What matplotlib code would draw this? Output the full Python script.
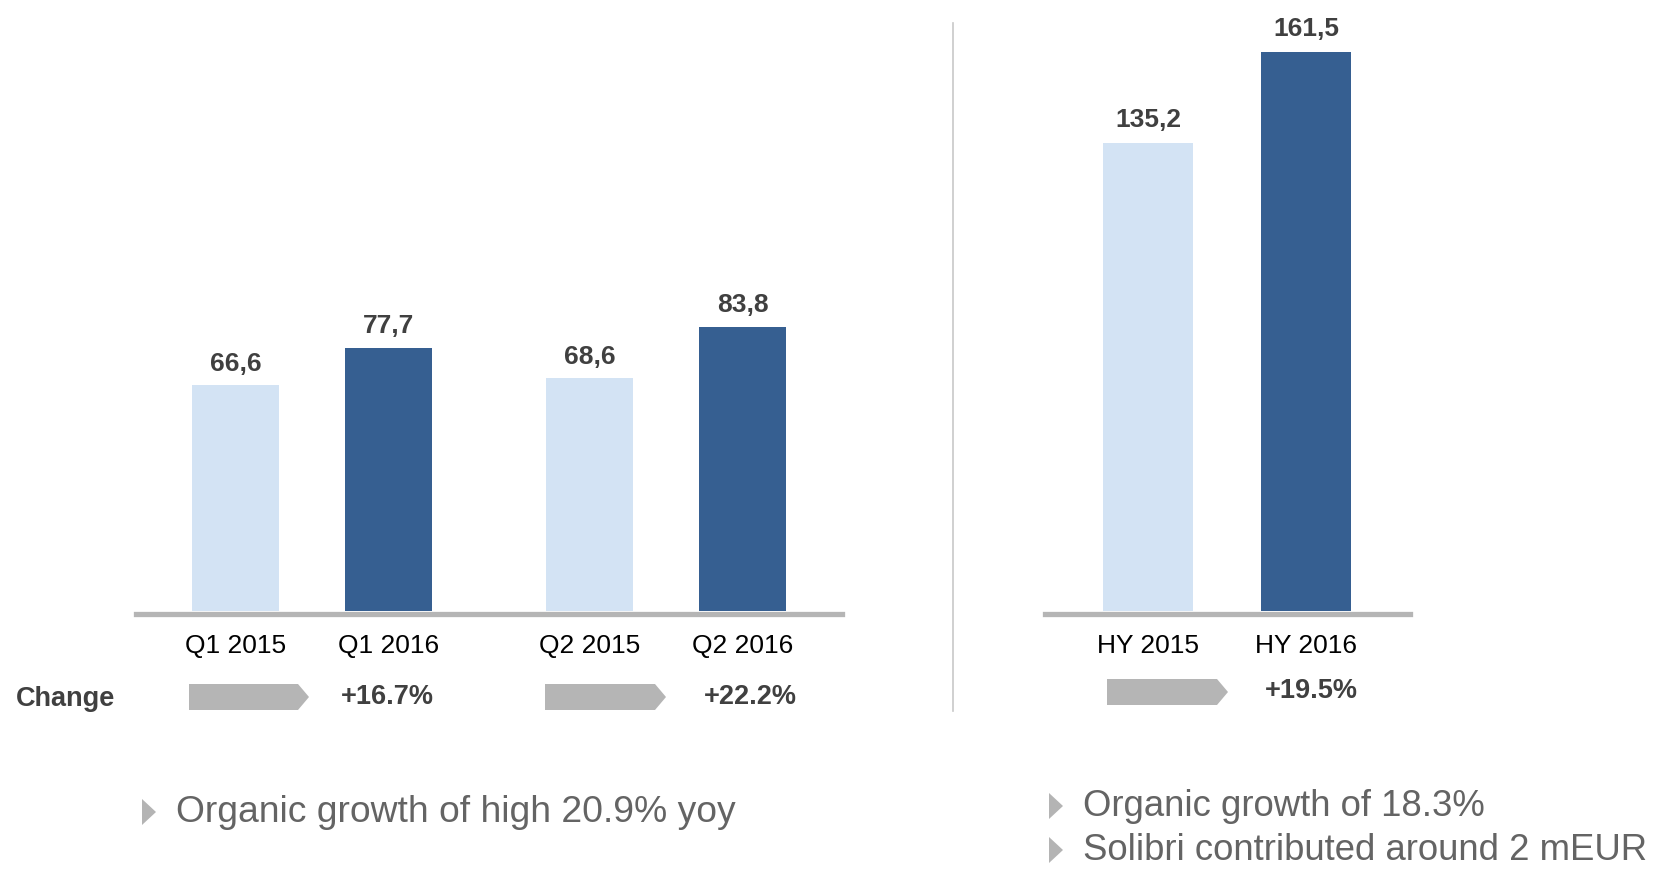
import numpy as np
import matplotlib
matplotlib.use("Agg")
import matplotlib.pyplot as plt
from matplotlib.patches import Polygon

# data
q_labels = ["Q1 2015", "Q1 2016", "Q2 2015", "Q2 2016"]
q_values = [66.6, 77.7, 68.6, 83.8]
hy_labels = ["HY 2015", "HY 2016"]
hy_values = [135.2, 161.5]
q_changes = ["+16.7%", "+22.2%"]
hy_changes = ["+19.5%"]
left_bullets = ["Organic growth of high 20.9% yoy"]
right_bullets = ["Organic growth of 18.3%", "Solibri contributed around 2 mEUR"]

LIGHT = "#D3E3F4"
DARK = "#365F91"
BASE = "#B5B5B5"
LABEL = "#404040"
BULLET = "#646464"

plt.rcParams["font.family"] = ["Liberation Sans", "DejaVu Sans"]

W, H = 1673, 871
fig = plt.figure(figsize=(W / 100, H / 100), dpi=100)


def px_axes(left, right, base, scale):
    # axes from figure top down to the baseline, scaled in px per unit
    ax = fig.add_axes([left / W, 1 - base / H, (right - left) / W, base / H])
    ax.set_ylim(0, base / scale)
    ax.axis("off")
    return ax


def draw_bars(ax, pos, values, labels, scale, lab_off=7):
    colors = [LIGHT if i % 2 == 0 else DARK for i in range(len(values))]
    ax.bar(pos, values, width=0.57, color=colors, zorder=3)
    ax.axhline(-2.6 / scale, color=BASE, linewidth=3.8, zorder=2, clip_on=False)
    for x, v in zip(pos, values):
        ax.annotate(f"{v:.1f}".replace(".", ","), (x, v), xytext=(0, lab_off),
                    textcoords="offset points", ha="center", va="bottom",
                    fontsize=19, fontweight="bold", color=LABEL)
    for x, lab in zip(pos, labels):
        ax.annotate(lab, (x, 0), xytext=(0, -35 * 0.72), textcoords="offset points",
                    ha="center", va="center", fontsize=19, color="black",
                    xycoords=ax.get_xaxis_transform())


# left chart
scale_q = 3.39
ax1 = px_axes(135.5, 842, 611, scale_q)
pos_q = np.array([0, 1, 2.31, 3.31])
ax1.set_xlim(-0.655, 3.96)
draw_bars(ax1, pos_q, q_values, q_labels, scale_q)

# right chart
scale_hy = 3.46
ax2 = px_axes(1044.6, 1409.5, 611, scale_hy)
pos_hy = np.array([0, 1])
ax2.set_xlim(-0.654, 1.655)
draw_bars(ax2, pos_hy, hy_values, hy_labels, scale_hy, lab_off=8)

# overlay in pixel space for arrows, separator and bullet markers
ov = fig.add_axes([0, 0, 1, 1], zorder=-1)
ov.set_xlim(0, W)
ov.set_ylim(H, 0)
ov.axis("off")


def chevron(x0, x1, y0, y1, tip=11):
    pts = [(x0, y0), (x1 - tip, y0), (x1, (y0 + y1) / 2), (x1 - tip, y1), (x0, y1)]
    ov.add_patch(Polygon(pts, closed=True, color=BASE, lw=0))


chevron(189, 309, 684, 710)
chevron(545, 666, 684, 710)
chevron(1107, 1228, 679, 705)


def ftext(x, y, txt, **kw):
    fig.text(x / W, 1 - y / H, txt, **kw)


ftext(16, 699, "Change", fontsize=19.5, fontweight="bold", color=LABEL,
      ha="left", va="center")
for x, txt in zip([387, 750], q_changes):
    ftext(x, 697, txt, fontsize=19.5, fontweight="bold", color=LABEL,
          ha="center", va="center")
ftext(1311, 691, hy_changes[0], fontsize=19.5, fontweight="bold", color=LABEL,
      ha="center", va="center")

ov.plot([953, 953], [23, 711], color="#C8C8C8", lw=1.2)


def bullet(x, y, txt, size=26.8):
    ov.add_patch(Polygon([(x, y - 13), (x + 14, y), (x, y + 13)], closed=True,
                         color="#B4B4B4", lw=0))
    ftext(x + 34, y, txt, fontsize=size, color=BULLET, ha="left", va="center")


for i, t in enumerate(left_bullets):
    bullet(142, 812 + i * 47, t)
for i, t in enumerate(right_bullets):
    bullet(1049, 806 + i * 44, t, size=26.3)

fig.savefig("out.png", dpi=100, facecolor="white")
